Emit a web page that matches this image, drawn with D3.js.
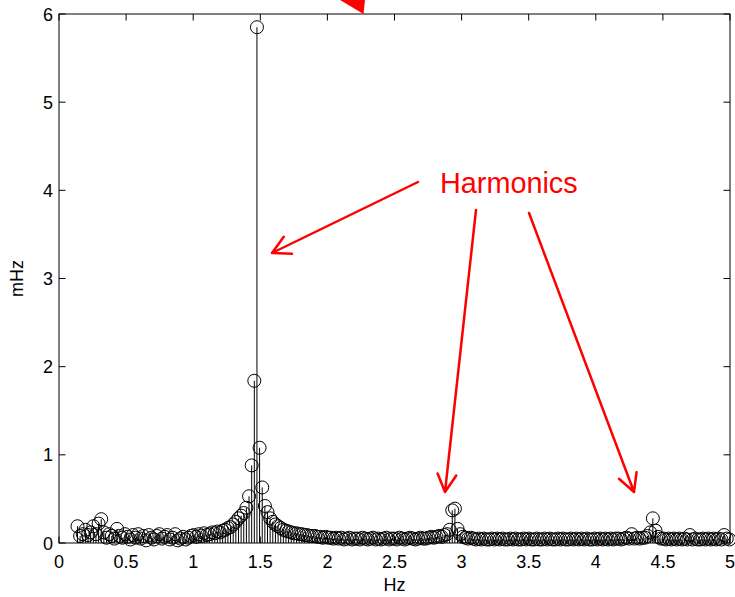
<!DOCTYPE html>
<html>
<head>
<meta charset="utf-8">
<script src="https://cdn.jsdelivr.net/npm/d3@7"></script>
<style>
  html, body { margin: 0; padding: 0; background: #fff; }
  svg { display: block; font-family: Arial, "Liberation Sans", Helvetica, sans-serif; }
</style>
</head>
<body>
<svg id="chart" width="735" height="597"></svg>
<script>
// ---- data ----
const freqStart = 0.1377;   // Hz, first bin
const freqStep = 0.019667;  // Hz, bin spacing
const amplitudes = [
  0.19,0.08,0.10,0.15,0.09,0.12,0.19,0.10,0.22,0.27,
  0.12,0.06,0.10,0.08,0.05,0.16,0.08,0.06,0.10,0.07,
  0.04,0.09,0.06,0.10,0.05,0.08,0.03,0.09,0.06,0.04,
  0.08,0.10,0.05,0.07,0.09,0.04,0.06,0.10,0.03,0.05,
  0.07,0.04,0.06,0.08,0.09,0.07,0.10,0.08,0.11,0.09,
  0.10,0.12,0.11,0.13,0.12,0.14,0.15,0.17,0.18,0.21,
  0.24,0.28,0.31,0.34,0.40,0.53,0.88,1.84,5.85,1.08,
  0.63,0.42,0.35,0.28,0.24,0.21,0.19,0.17,0.15,0.14,
  0.13,0.12,0.11,0.11,0.10,0.10,0.09,0.09,0.08,0.08,
  0.08,0.07,0.07,0.06,0.07,0.06,0.06,0.05,0.06,0.05,
  0.06,0.04,0.05,0.06,0.04,0.05,0.05,0.04,0.06,0.05,
  0.04,0.05,0.06,0.04,0.05,0.04,0.05,0.06,0.04,0.05,
  0.05,0.04,0.06,0.05,0.04,0.05,0.06,0.05,0.04,0.05,
  0.06,0.05,0.05,0.06,0.07,0.06,0.07,0.08,0.07,0.09,
  0.10,0.15,0.37,0.39,0.16,0.10,0.07,0.06,0.05,0.06,
  0.05,0.04,0.05,0.04,0.05,0.04,0.04,0.05,0.04,0.05,
  0.04,0.05,0.04,0.04,0.05,0.04,0.05,0.04,0.04,0.05,
  0.04,0.05,0.04,0.04,0.05,0.04,0.04,0.05,0.04,0.05,
  0.04,0.04,0.05,0.04,0.05,0.04,0.04,0.05,0.04,0.05,
  0.04,0.05,0.04,0.05,0.04,0.04,0.05,0.04,0.05,0.04,
  0.05,0.04,0.05,0.04,0.05,0.05,0.04,0.05,0.06,0.05,
  0.10,0.05,0.06,0.05,0.06,0.06,0.08,0.12,0.28,0.14,
  0.07,0.05,0.05,0.04,0.05,0.04,0.05,0.04,0.05,0.04,
  0.05,0.04,0.09,0.04,0.05,0.04,0.04,0.05,0.04,0.05,
  0.04,0.05,0.04,0.05,0.04,0.09,0.05,0.04
];
const xTicks = [0, 0.5, 1, 1.5, 2, 2.5, 3, 3.5, 4, 4.5, 5];
const xTickLabels = ["0","0.5","1","1.5","2","2.5","3","3.5","4","4.5","5"];
const yTicks = [0, 1, 2, 3, 4, 5, 6];
const yTickLabels = ["0","1","2","3","4","5","6"];
const xLabel = "Hz";
const yLabel = "mHz";
const annotationText = "Harmonics";

// ---- layout ----
const svg = d3.select("#chart");
const L = 59, R = 730, T = 14, B = 543;
const x = d3.scaleLinear().domain([0, 5]).range([L, R]);
const y = d3.scaleLinear().domain([0, 6]).range([B, T]);
const tickLen = 6.5;
const fontSize = 18;

const data = amplitudes.map((v, i) => ({ f: freqStart + i * freqStep, v }));

// stems
const g = svg.append("g");
g.selectAll("line.stem").data(data).enter().append("line")
  .attr("x1", d => x(d.f)).attr("x2", d => x(d.f))
  .attr("y1", y(0)).attr("y2", d => y(d.v))
  .attr("stroke", "#000").attr("stroke-width", 1);
g.selectAll("circle").data(data).enter().append("circle")
  .attr("cx", d => x(d.f)).attr("cy", d => y(d.v)).attr("r", 6.5)
  .attr("fill", "none").attr("stroke", "#000").attr("stroke-width", 1);

// axes box
const ax = svg.append("g").attr("stroke", "#000").attr("stroke-width", 1).attr("fill", "none");
ax.append("rect").attr("x", L).attr("y", T).attr("width", R - L).attr("height", B - T);
xTicks.forEach(t => {
  ax.append("line").attr("x1", x(t)).attr("x2", x(t)).attr("y1", B).attr("y2", B - tickLen);
  ax.append("line").attr("x1", x(t)).attr("x2", x(t)).attr("y1", T).attr("y2", T + tickLen);
});
yTicks.forEach(t => {
  ax.append("line").attr("x1", L).attr("x2", L + tickLen).attr("y1", y(t)).attr("y2", y(t));
  ax.append("line").attr("x1", R).attr("x2", R - tickLen).attr("y1", y(t)).attr("y2", y(t));
});

// tick labels
const tl = svg.append("g").attr("font-size", fontSize).attr("fill", "#000");
xTicks.forEach((t, i) => {
  tl.append("text").attr("x", x(t)).attr("y", 568).attr("text-anchor", "middle").text(xTickLabels[i]);
});
yTicks.forEach((t, i) => {
  tl.append("text").attr("x", 53).attr("y", y(t) + 6.5).attr("text-anchor", "end").text(yTickLabels[i]);
});
tl.append("text").attr("x", (L + R) / 2).attr("y", 591).attr("text-anchor", "middle").text(xLabel);
tl.append("text").attr("transform", `translate(23,${(T + B) / 2}) rotate(-90)`)
  .attr("text-anchor", "middle").text(yLabel);

// annotations
const an = svg.append("g");
an.append("polygon").attr("points", "340,0 365,0 363.5,14").attr("fill", "#ff0000");
an.append("text").attr("x", 440).attr("y", 193).attr("font-size", 28.8).attr("fill", "#ff0000").text(annotationText);

function arrow(x1, y1, x2, y2) {
  const ang = Math.atan2(y1 - y2, x1 - x2);
  const len = 20, spread = 28 * Math.PI / 180;
  const p = d3.path();
  p.moveTo(x1, y1); p.lineTo(x2, y2);
  p.moveTo(x2 + len * Math.cos(ang + spread), y2 + len * Math.sin(ang + spread));
  p.lineTo(x2, y2);
  p.lineTo(x2 + len * Math.cos(ang - spread), y2 + len * Math.sin(ang - spread));
  an.append("path").attr("d", p.toString()).attr("fill", "none")
    .attr("stroke", "#ff0000").attr("stroke-width", 2.5).attr("stroke-linecap", "round").attr("stroke-linejoin", "round");
}
arrow(418, 182, 272, 253);
arrow(476, 210, 445, 492);
arrow(529, 213, 634, 492);
</script>
</body>
</html>
